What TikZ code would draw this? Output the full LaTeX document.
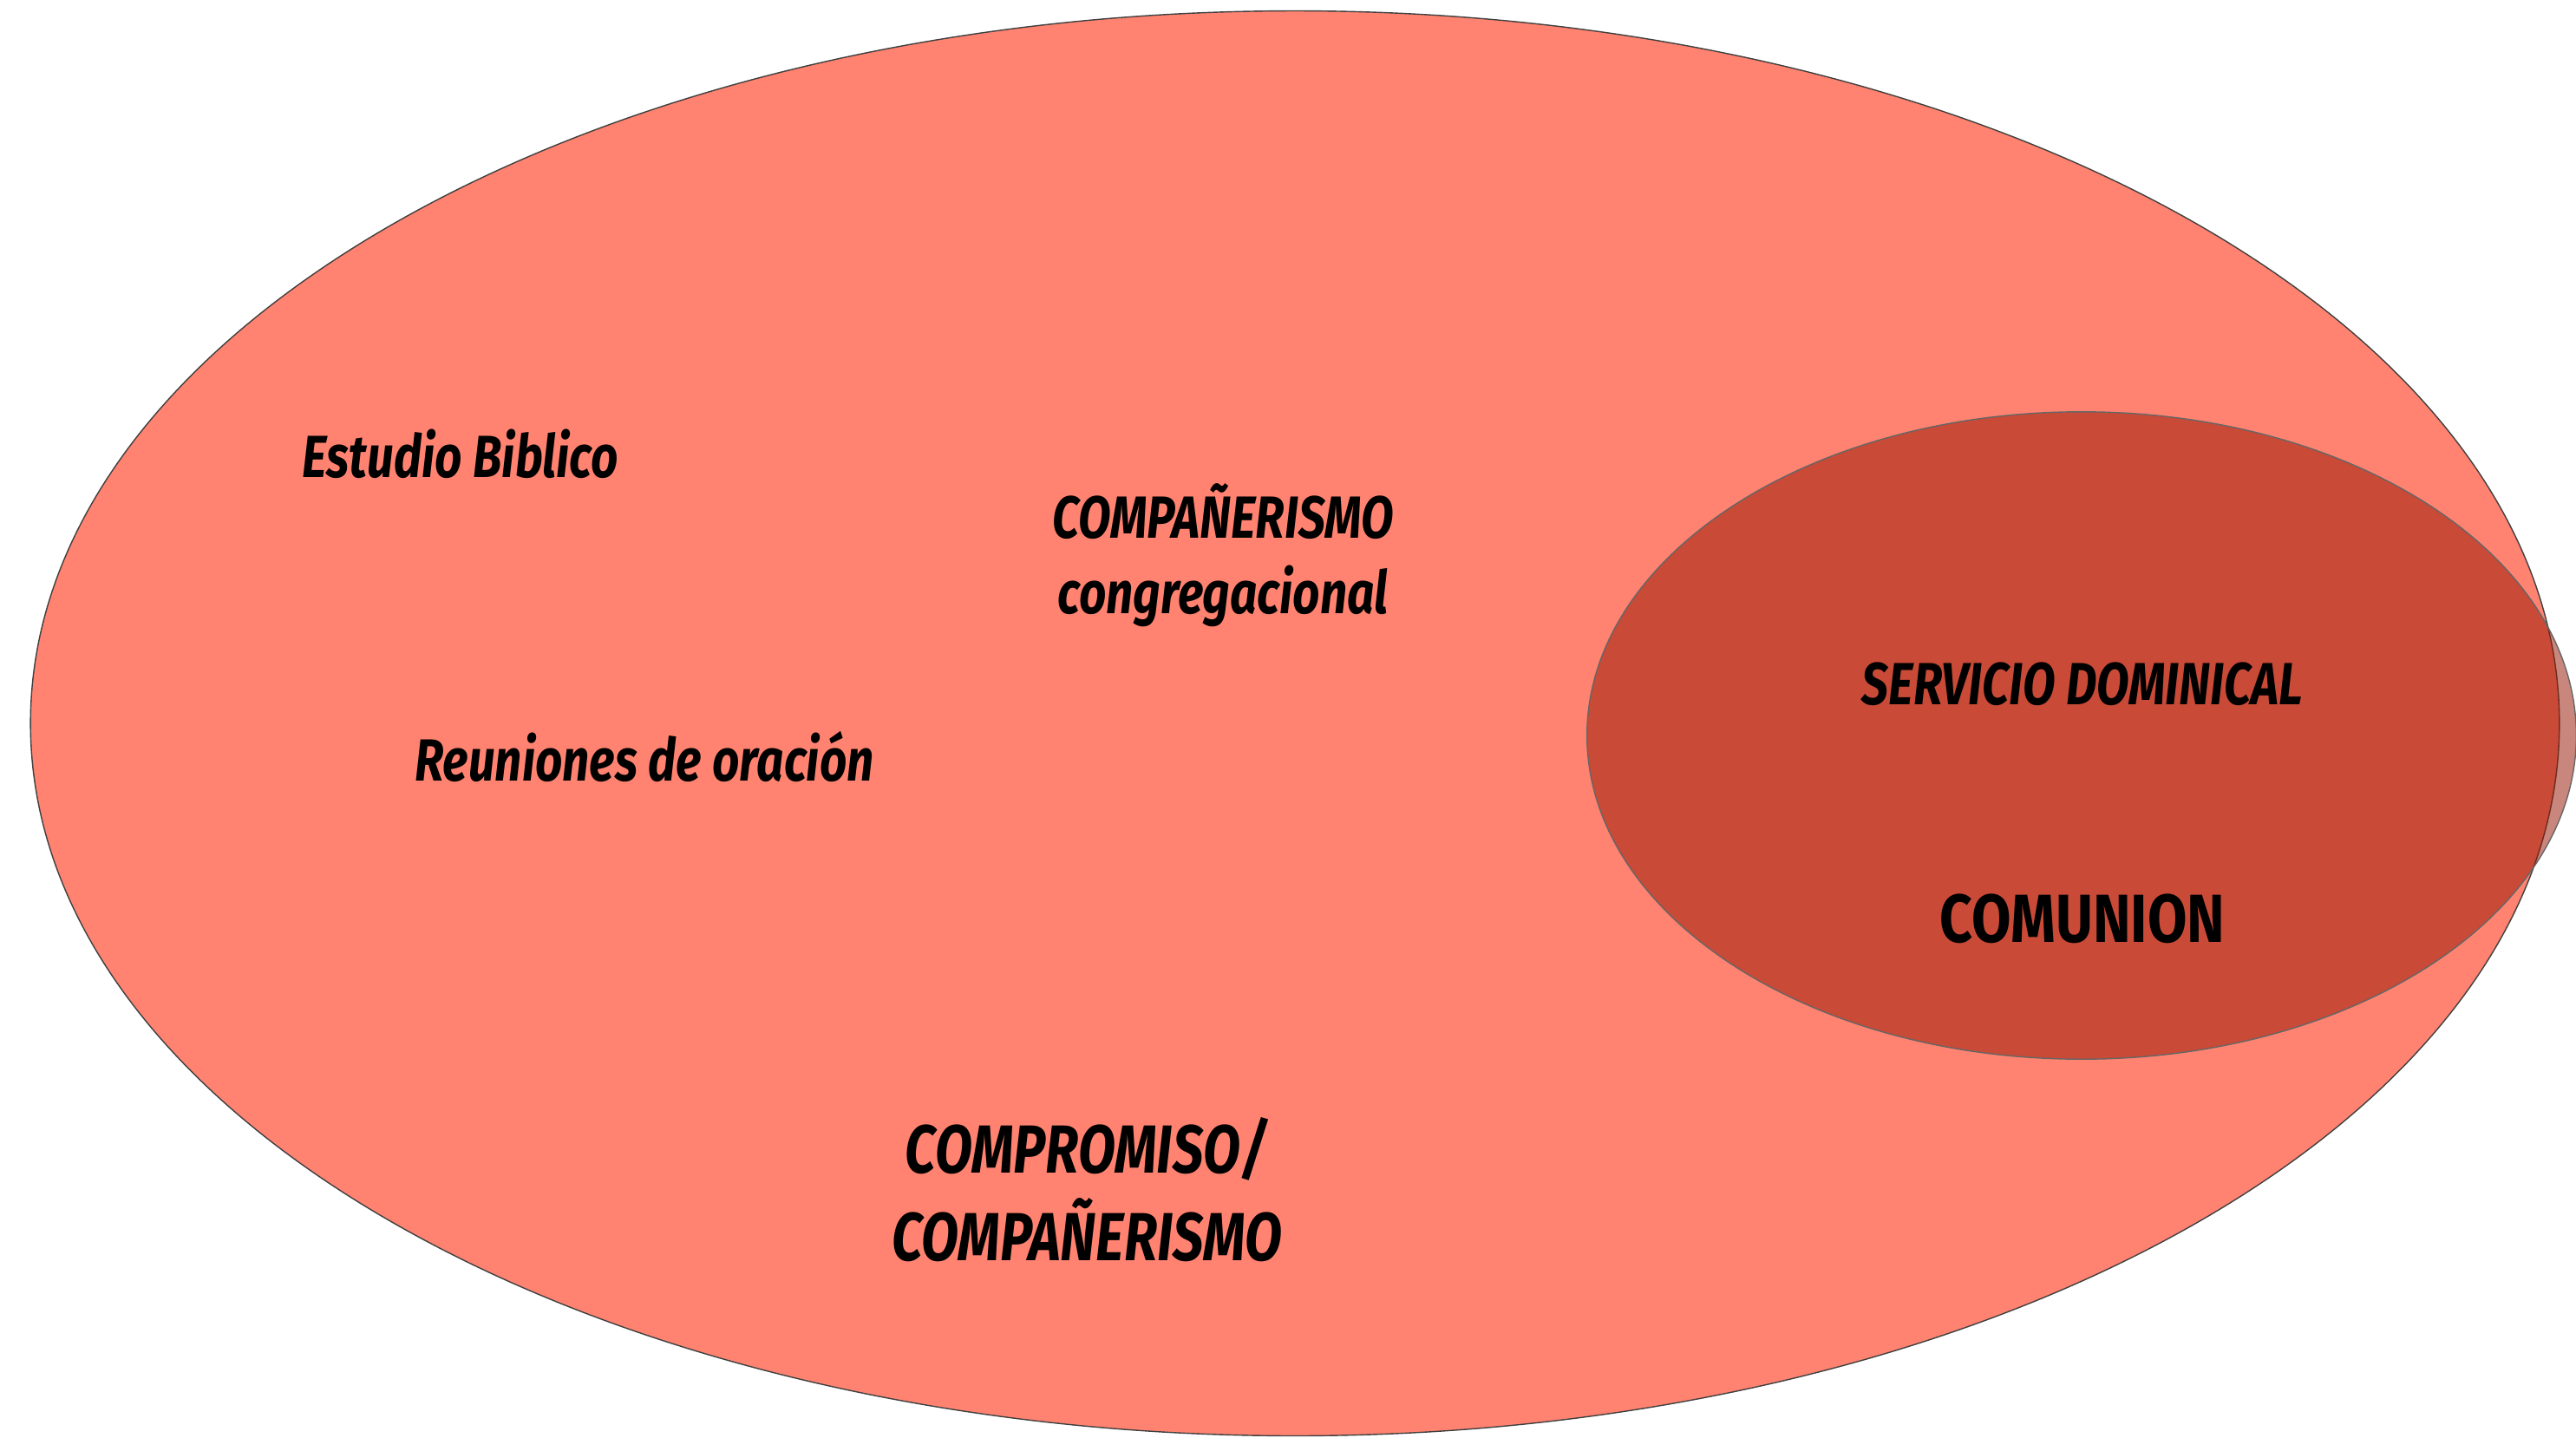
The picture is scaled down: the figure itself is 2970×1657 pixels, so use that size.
\documentclass[tikz,border=0pt]{standalone}
\usepackage{fontspec}
\setmainfont{Fira Sans}[FakeStretch=0.8]
\newfontfamily\uprightfont{Fira Sans}[FakeStretch=0.84]
\usetikzlibrary{positioning}
\definecolor{salmon}{RGB}{255,131,112}
\definecolor{rust}{RGB}{151,23,4}

\begin{document}
\begin{tikzpicture}[x=0.01cm, y=-0.01cm]
	\useasboundingbox (0,0) rectangle (2970,1657);
	\begin{scope}
		\tikzstyle{every node}=[align=center, inner sep=0pt, anchor=base, font=\bfseries\itshape\fontsize{19.5}{24.7}\selectfont]
		\tikzstyle{big}=[font=\bfseries\itshape\fontsize{22.3}{28.6}\selectfont]

		% the two ellipses
		\draw [fill=salmon, draw=black!75, line width=0.4pt] (1493,834) ellipse [x radius=14.57cm, y radius=8.21cm];
		\draw [fill=rust, fill opacity=0.52, draw=black!60, line width=0.4pt] (2400,848) ellipse [x radius=5.70cm, y radius=3.73cm];

		\node (est)  at (531, 550)  {Estudio Biblico};
		\node (reu)  at (743, 900)  {Reuniones de oración};
		\node (comp) at (1410, 707) {COMPAÑERISMO\\congregacional};

		\node (serv) at (2401, 812)  {SERVICIO DOMINICAL};
		\node (comu) at (2401, 1086) [font=\uprightfont\bfseries\fontsize{22.3}{28.6}\selectfont] {COMUNION};

		\node (cpro) at (1253, 1453) [big] {COMPROMISO/\\COMPAÑERISMO};
	\end{scope}
\end{tikzpicture}
\end{document}
